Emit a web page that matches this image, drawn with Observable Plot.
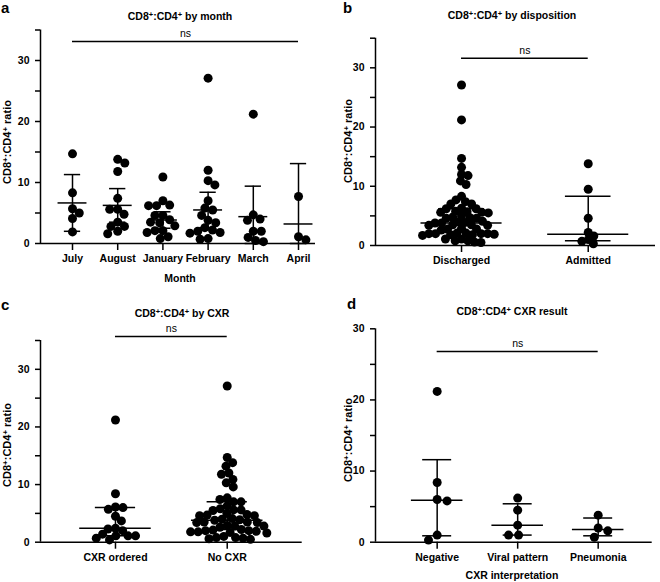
<!DOCTYPE html>
<html><head><meta charset="utf-8">
<script src="https://cdn.jsdelivr.net/npm/d3@7"></script>
<script src="https://cdn.jsdelivr.net/npm/@observablehq/plot@0.6"></script>
<style>
body{margin:0;background:#fff;}
#wrap{position:relative;width:660px;height:582px;font-family:"Liberation Sans",Arial,Helvetica,sans-serif;color:#000;overflow:hidden;}
.lbl{position:absolute;font-weight:bold;white-space:nowrap;text-align:center;line-height:14px;}
.title{font-size:10.5px;width:300px;}
.letter{font-size:15px;line-height:15px;text-align:left;}
.ylab{font-size:11px;width:200px;height:14px;transform:rotate(-90deg);}
.xlab{font-size:10.5px;width:200px;}
sup{font-size:0.72em;line-height:0;vertical-align:0.42em;}
</style></head><body><div id="wrap"></div>
<script>
// ---------- Panel a: by month (mean ± SD) ----------
const monthCats = ["July","August","January","February","March","April"];
const julyVals = [14.7, 8.3, 5.0, 5.7, 4.1, 1.9];
const augustVals = [13.2, 13.8, 11.8, 7.4, 5.6, 5.6, 4.8, 3.5, 2.8, 2.8, 2.0, 1.6];
const januaryVals = [10.9, 7.0, 6.3, 6.2, 6.2, 4.6, 4.6, 3.9, 3.5, 3.4, 2.9, 2.1, 2.1, 1.8, 1.1, 0.8];
const februaryVals = [27.1, 12.0, 10.3, 9.6, 7.0, 5.8, 5.5, 4.6, 3.8, 3.4, 2.6, 2.2, 2.0, 1.8, 1.7, 0.8, 0.7];
const marchVals = [21.2, 4.7, 4.0, 3.8, 2.0, 2.0, 1.0, 0.3, 0.5];
const aprilVals = [7.7, 0.6, 1.1];
const monthCenter = [6.65, 6.25, 3.85, 5.5, 4.4, 3.2];
const monthHi = [11.3, 9.0, 5.2, 8.4, 9.4, 13.1];
const monthLo = [2.0, 3.5, 2.5, 2.6, 0, 0];

// ---------- Panel b: by disposition (median, IQR) ----------
const dispCats = ["Discharged","Admitted"];
const dischargedVals = [14.7, 8.3, 5.0, 5.7, 4.1, 1.9, 13.2, 11.8, 7.4, 5.6, 5.6, 4.8, 3.5, 2.8, 2.8, 2.0,
  10.9, 7.0, 6.3, 6.2, 6.2, 4.6, 3.9, 3.5, 3.4, 2.9, 2.1, 2.1, 1.8, 1.1, 0.8,
  27.1, 12.0, 10.3, 7.0, 5.8, 5.5, 4.6, 3.8, 3.4, 2.6, 2.0, 1.8, 1.7, 0.8,
  21.2, 4.7, 4.0, 3.8, 2.0, 2.0, 0.5, 7.7, 0.6, 1.1];
const admittedVals = [13.8, 9.5, 4.6, 2.2, 1.6, 1.0, 0.7, 0.3];
const dispCenter = [3.8, 1.9];
const dispHi = [6.2, 8.3];
const dispLo = [2.2, 0.8];

// ---------- Panel c: by CXR (median, IQR) ----------
const cxrCats = ["CXR ordered","No CXR"];
const cxrOrderedVals = [21.2, 8.4, 6.1, 6.0, 5.7, 4.5, 3.7, 2.4, 2.3, 2.0, 1.4, 1.1, 1.1, 1.1, 0.7, 0.4];
const noCxrVals = [27.1, 14.7, 13.8, 13.2, 12.0, 11.8, 10.9, 10.3, 9.6, 7.7, 7.4, 7.0, 7.0, 6.3, 5.8, 5.6, 5.6, 5.5,
  5.0, 4.8, 4.7, 4.6, 4.6, 4.1, 4.0, 3.9, 3.8, 3.5, 3.5, 3.4, 3.4, 2.9, 2.8, 2.8, 2.6, 2.2, 2.1, 2.0, 2.0,
  1.9, 1.8, 1.8, 1.7, 1.6, 1.0, 0.8, 0.8, 0.7, 0.6, 0.5];
const cxrCenter = [2.4, 3.8];
const cxrHi = [6.0, 7.0];
const cxrLo = [1.1, 2.2];

// ---------- Panel d: CXR result (median, IQR) ----------
const resultCats = ["Negative","Viral pattern","Pneumonia"];
const negativeVals = [21.2, 8.4, 6.0, 5.8, 1.0, 0.3];
const viralVals = [6.2, 4.5, 2.4, 1.0, 1.0];
const pneumoniaVals = [3.8, 2.0, 1.6, 0.7];
const resultCenter = [5.9, 2.4, 1.8];
const resultHi = [11.6, 5.4, 3.4];
const resultLo = [0.9, 1.0, 0.9];

// ns comparison bars
const nsA = {y: 33.1, from: 0, to: 5};
const nsB = {y: 31.6, from: 0, to: 1};
const nsC = {y: 35.7, from: 0, to: 1};
const nsD = {y: 26.8, from: 0, to: 2};

const FONT = '"Liberation Sans", Arial, Helvetica, sans-serif';
const wrap = document.getElementById("wrap");

// beeswarm offsets (pixel space, converted back to x units)
function swarm(vals, pxX, pxY, D) {
  const order = vals.map((v, i) => i).sort((a, b) => vals[b] - vals[a]);
  const placed = [];
  const off = new Array(vals.length).fill(0);
  let flip = 1;
  for (const i of order) {
    const y = vals[i] * pxY;
    const near = placed.filter(p => Math.abs(p.y - y) < D);
    const cands = [0];
    for (const p of near) {
      const dx = Math.sqrt(D * D - (p.y - y) ** 2);
      cands.push(p.x + dx, p.x - dx);
    }
    cands.sort((a, b) => (Math.abs(a) - Math.abs(b)) || (flip * (b - a)));
    let x = 0;
    for (const c of cands) {
      if (near.every(p => (p.x - c) ** 2 + (p.y - y) ** 2 >= D * D - 1e-6)) { x = c; break; }
    }
    if (x !== 0) flip = -flip;
    placed.push({x, y});
    off[i] = x / pxX;
  }
  return off;
}

function panel(cfg) {
  const {cats, groups, center, hi, lo, ns, left, top, width, height, mL, mR, mT, mB, xDomain, yMax, major, minor, gap} = cfg;
  const pxX = (width - mL - mR) / (xDomain[1] - xDomain[0]);
  const pxY = (height - mT - mB) / yMax;
  const points = [];
  groups.forEach((vals, i) => {
    const off = swarm(vals, pxX, pxY, gap);
    vals.forEach((v, k) => points.push({i, x: i + off[k], v}));
  });
  const stats = cats.map((c, i) => ({i, center: center[i], hi: hi[i], lo: lo[i]}));
  const sw = 1.5;
  const svg = Plot.plot({
    width, height,
    marginLeft: mL, marginRight: mR, marginTop: mT, marginBottom: mB,
    x: {domain: xDomain},
    y: {domain: [0, yMax]},
    style: {fontFamily: FONT, fontSize: "10.5px", fontWeight: "bold", color: "black", background: "white", overflow: "visible"},
    marks: [
      Plot.axisY({ticks: minor, tickFormat: () => "", tickSize: 5, strokeWidth: sw, label: null}),
      Plot.axisY({ticks: major, tickFormat: d => String(d), tickSize: 5, tickPadding: 6, strokeWidth: sw, label: null, fontSize: 10.5}),
      Plot.axisX({ticks: d3.range(cats.length), tickFormat: i => cats[i], tickSize: 7, tickPadding: 4, strokeWidth: sw, label: null, fontSize: 10.5}),
      Plot.ruleX([xDomain[0]], {y1: 0, y2: yMax, stroke: "black", strokeWidth: sw}),
      Plot.ruleY([0], {stroke: "black", strokeWidth: sw}),
      Plot.dot(points, {x: "x", y: "v", r: 4.5, fill: "black", stroke: "none"}),
      Plot.ruleX(stats, {x: "i", y1: "lo", y2: "hi", stroke: "black", strokeWidth: sw}),
      Plot.ruleY(stats, {y: "center", x1: d => d.i - 0.32, x2: d => d.i + 0.32, stroke: "black", strokeWidth: sw}),
      Plot.ruleY(stats, {y: "hi", x1: d => d.i - 0.18, x2: d => d.i + 0.18, stroke: "black", strokeWidth: sw}),
      Plot.ruleY(stats, {y: "lo", x1: d => d.i - 0.18, x2: d => d.i + 0.18, stroke: "black", strokeWidth: sw}),
      Plot.ruleY([ns], {y: "y", x1: "from", x2: "to", stroke: "black", strokeWidth: sw}),
      Plot.text([ns], {x: d => (d.from + d.to) / 2, y: "y", text: () => "ns", dy: -8, fontWeight: "normal", fontSize: 10.5, fill: "black"})
    ]
  });
  svg.style.position = "absolute";
  svg.style.left = left + "px";
  svg.style.top = top + "px";
  wrap.appendChild(svg);
}

panel({cats: monthCats, groups: [julyVals, augustVals, januaryVals, februaryVals, marchVals, aprilVals],
  center: monthCenter, hi: monthHi, lo: monthLo, ns: nsA, gap: 8,
  left: 0, top: 0, width: 330, height: 290, mL: 40, mR: 15, mT: 29.5, mB: 47,
  xDomain: [-0.708, 5.376], yMax: 35, major: [0, 10, 20, 30], minor: [5, 15, 25, 35]});
panel({cats: dispCats, groups: [dischargedVals, admittedVals],
  center: dispCenter, hi: dispHi, lo: dispLo, ns: nsB, gap: 6.6,
  left: 330, top: 0, width: 330, height: 290, mL: 45, mR: 5, mT: 37.7, mB: 45,
  xDomain: [-0.679, 1.531], yMax: 35, major: [0, 10, 20, 30], minor: [5, 15, 25, 35]});
panel({cats: cxrCats, groups: [cxrOrderedVals, noCxrVals],
  center: cxrCenter, hi: cxrHi, lo: cxrLo, ns: nsC, gap: 7.5,
  left: 0, top: 290, width: 330, height: 290, mL: 40, mR: 28.3, mT: 50, mB: 38.3,
  xDomain: [-0.671, 1.671], yMax: 35, major: [0, 10, 20, 30], minor: [5, 15, 25, 35]});
panel({cats: resultCats, groups: [negativeVals, viralVals, pneumoniaVals],
  center: resultCenter, hi: resultHi, lo: resultLo, ns: nsD, gap: 10,
  left: 330, top: 290, width: 330, height: 292, mL: 45, mR: 8.3, mT: 38.3, mB: 40.3,
  xDomain: [-0.766, 2.671], yMax: 30, major: [0, 10, 20, 30], minor: [5, 15, 25]});

// text labels (HTML)
const CD = 'CD8<sup>+</sup>:CD4<sup>+</sup>';
function label(cls, html, cx, cy, w) {
  const d = document.createElement("div");
  d.className = "lbl " + cls;
  d.innerHTML = html;
  if (cls === "letter") { d.style.left = cx + "px"; d.style.top = cy + "px"; }
  else { d.style.left = (cx - w / 2) + "px"; d.style.top = (cy - 7) + "px"; }
  wrap.appendChild(d);
}
label("letter", "a", 1, 0);
label("letter", "b", 343, 0);
label("letter", "c", 1, 297);
label("letter", "d", 347, 296);
label("title", CD + " by month", 180, 15.5, 300);
label("title", CD + " by disposition", 512, 15, 300);
label("title", CD + " by CXR", 182, 313, 300);
label("title", CD + " CXR result", 512, 311, 300);
label("ylab", CD + " ratio", 7, 142, 200);
label("ylab", CD + " ratio", 348, 141, 200);
label("ylab", CD + " ratio", 6.5, 445, 200);
label("ylab", CD + " ratio", 348, 440, 200);
label("xlab", "Month", 180, 278, 200);
label("xlab", "CXR interpretation", 512, 575, 200);
</script></body></html>
